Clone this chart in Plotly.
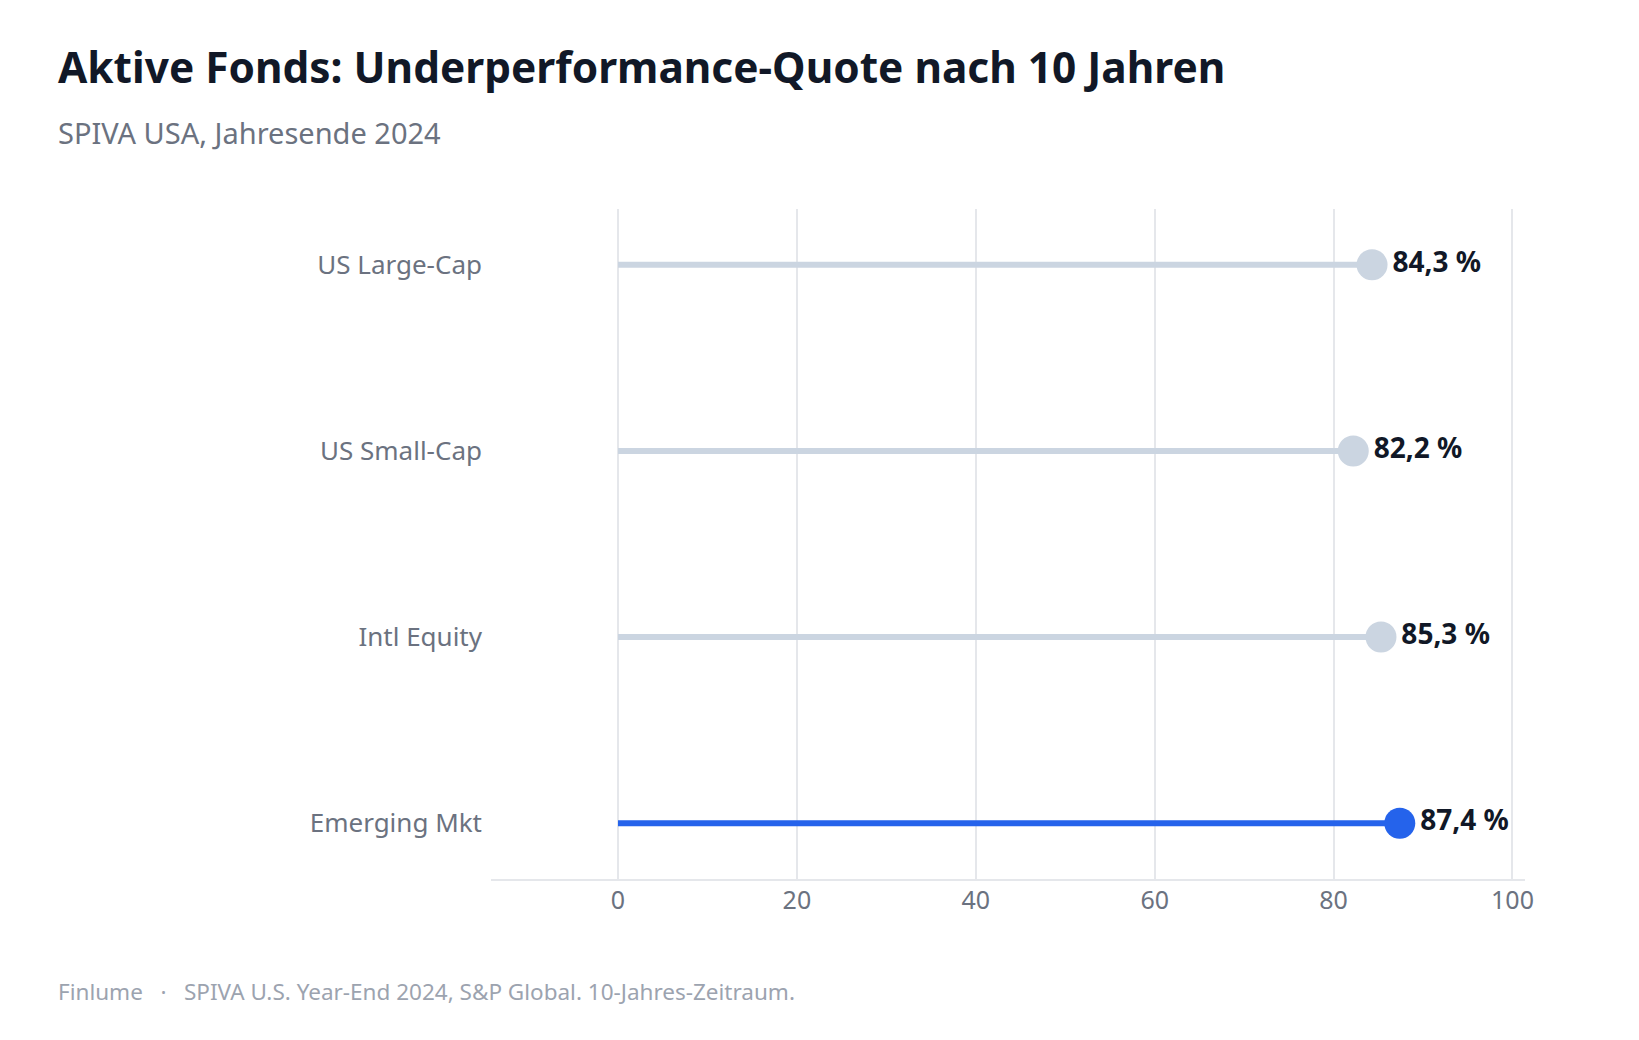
import plotly.graph_objects as go

categories = ["US Large-Cap", "US Small-Cap", "Intl Equity", "Emerging Mkt"]
values = [84.3, 82.2, 85.3, 87.4]
highlight = [False, False, False, True]
x_ticks = [0, 20, 40, 60, 80, 100]

GRAY = "#cbd5e1"
BLUE = "#2563eb"
FONT = "Noto Sans"

fig = go.Figure()
for cat, v, h in zip(categories, values, highlight):
    col = BLUE if h else GRAY
    fig.add_trace(go.Scatter(
        x=[0, v], y=[cat, cat], mode="lines",
        line=dict(color=col, width=6), hoverinfo="skip", showlegend=False))
    fig.add_trace(go.Scatter(
        x=[v], y=[cat], mode="markers+text",
        marker=dict(color=col, size=31, line=dict(width=0)),
        text=[f"{v:.1f}".replace(".", ",") + " %"],
        textposition="middle right",
        textfont=dict(family=FONT, size=28, color="#111827", weight="bold"),
        showlegend=False))

W, H = 1639, 1040
L, R, T, B = 491, 114, 209, 161
ph = H - T - B
pw = W - L - R

def py(ypx):
    return (H - B - ypx) / ph

def px(xpx):
    return (xpx - L) / pw

fig.update_layout(
    width=W, height=H,
    margin=dict(l=L, r=R, t=T, b=B),
    paper_bgcolor="white", plot_bgcolor="white",
    font=dict(family=FONT, color="#6b7280"),
    xaxis=dict(
        range=[-14.2, 101.4], tickvals=x_ticks, showgrid=True,
        gridcolor="#e5e7eb", gridwidth=2, zeroline=False,
        showline=True, linecolor="#e5e7eb", linewidth=2,
        tickfont=dict(size=25, color="#6b7280"), ticks="", ticklabelstandoff=-2),
    yaxis=dict(
        categoryorder="array", categoryarray=categories[::-1],
        range=[-0.3, 3.3], showgrid=False, zeroline=False, showline=False,
        tickfont=dict(size=26, color="#6b7280"), ticks="", ticklabelstandoff=8),
    annotations=[
        dict(text="<b>Aktive Fonds: Underperformance-Quote nach 10 Jahren</b>",
             xref="paper", yref="paper", x=px(56), y=py(66), xanchor="left", yanchor="middle",
             showarrow=False, font=dict(family=FONT, size=42.4, color="#111827")),
        dict(text="SPIVA USA, Jahresende 2024",
             xref="paper", yref="paper", x=px(56), y=py(133), xanchor="left", yanchor="middle",
             showarrow=False, font=dict(family=FONT, size=29, color="#6b7280")),
        dict(text="Finlume   ·   SPIVA U.S. Year-End 2024, S&P Global. 10-Jahres-Zeitraum.",
             xref="paper", yref="paper", x=px(56), y=py(991), xanchor="left", yanchor="middle",
             showarrow=False, font=dict(family=FONT, size=22.5, color="#9ca3af")),
    ],
)

fig.write_html("out.html")
